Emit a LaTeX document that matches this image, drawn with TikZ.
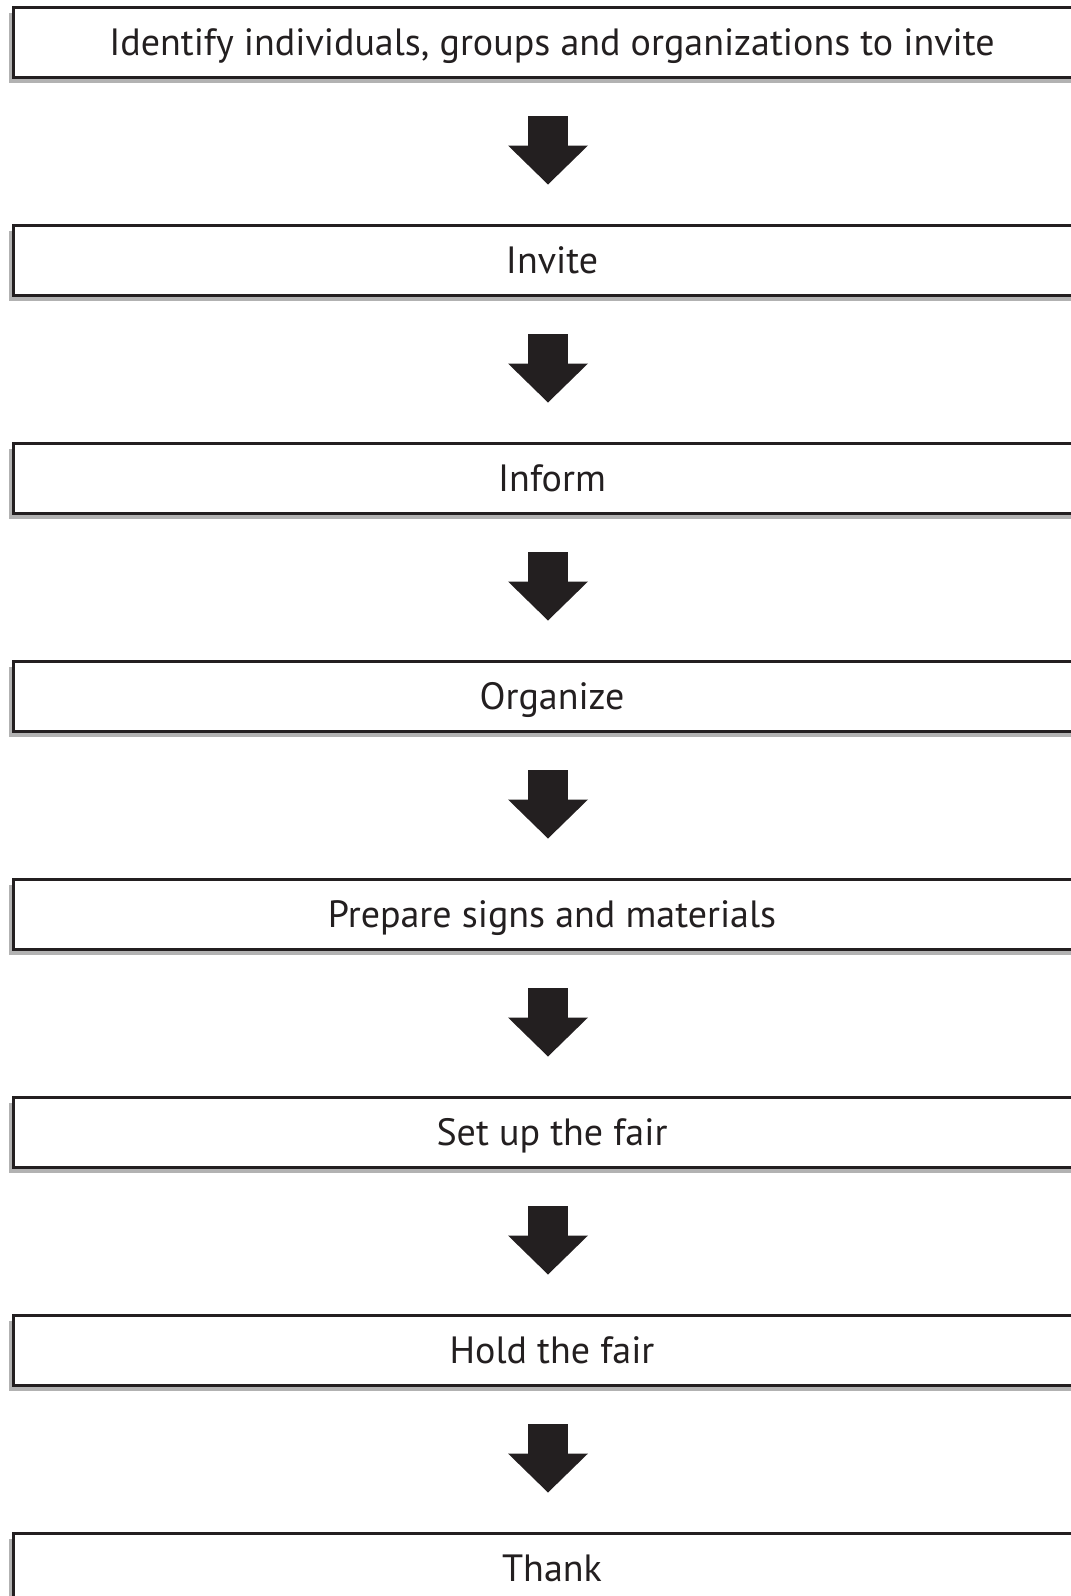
\documentclass[tikz,border=0pt]{standalone}
\usepackage{fontspec}
\setmainfont{PT Sans}
\usetikzlibrary{positioning,arrows.meta,shadows}
\definecolor{inkdark}{HTML}{231F20}

\tikzset{
  stepbox/.style={draw=inkdark, line width=3pt, fill=white,
    minimum width=1077pt, minimum height=70pt, inner sep=0pt,
    text height=26pt, text depth=0pt,
    font=\fontsize{38}{46}\selectfont, text=inkdark,
    drop shadow={shadow xshift=-5pt, shadow yshift=-5pt, fill=black, opacity=0.3}},
  bigarrow/.style={draw=inkdark, line width=40pt, shorten <=37pt, shorten >=39.5pt,
    -{Triangle[width=80pt, length=39pt, line width=0pt]}}
}

\begin{document}
\begin{tikzpicture}[node distance=145pt]
  \useasboundingbox (0,0) rectangle (1071pt,-1596pt);
  \node[stepbox] (identify) at (552pt,-42.5pt) {Identify individuals, groups and organizations to invite};
  \node[stepbox, below=of identify] (invite) {Invite};
  \node[stepbox, below=of invite] (inform) {Inform};
  \node[stepbox, below=of inform] (organize) {Organize};
  \node[stepbox, below=of organize] (prepare) {Prepare signs and materials};
  \node[stepbox, below=of prepare] (setup) {Set up the fair};
  \node[stepbox, below=of setup] (hold) {Hold the fair};
  \node[stepbox, below=of hold] (thank) {Thank};
  \foreach \a/\b in {identify/invite, invite/inform, inform/organize, organize/prepare,
      prepare/setup, setup/hold, hold/thank}
    \draw[bigarrow] ([xshift=-4pt]\a.south) -- ([xshift=-4pt]\b.north);
\end{tikzpicture}
\end{document}
